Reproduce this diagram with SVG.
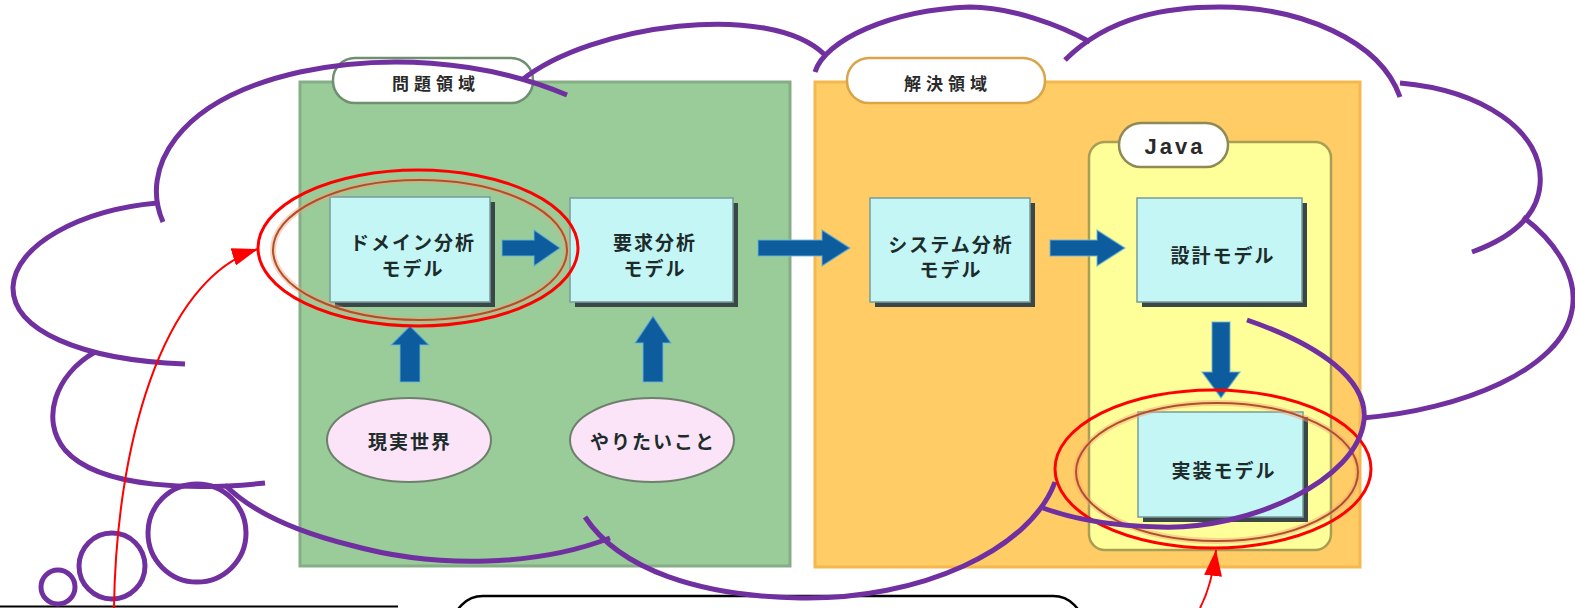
<svg xmlns="http://www.w3.org/2000/svg" width="1575" height="608" viewBox="0 0 1575 608">
<defs>
<style>
.box{fill:#c4f6f6;stroke:#7a9a9a;stroke-width:1.5}
.shadow{fill:#3a4747}
.jp{font-family:"Noto Sans CJK JP","Noto Sans",sans-serif;font-weight:bold;fill:#1d2b2b;font-size:19px;letter-spacing:2px;text-anchor:middle;dominant-baseline:central}
.lab{font-family:"Noto Sans CJK JP","Noto Sans",sans-serif;font-weight:bold;fill:#2a2a2a;font-size:17px;letter-spacing:5px;text-anchor:middle;dominant-baseline:central}
.blue{fill:#0d5c9e;stroke:#6bb6dc;stroke-width:1.5;stroke-opacity:0.6}
.cloud{fill:none;stroke:#7030a0;stroke-width:5}
.red{fill:none;stroke:#ff0000;stroke-width:3}
.brown{fill:none;stroke:#b0502a;stroke-width:2}
.halo{fill:none;stroke:#f2a27a;stroke-width:6;stroke-opacity:0.45}
.pink{fill:#fbe4f7;stroke:#6e7f6e;stroke-width:2}
.pill{stroke-width:2.5}
</style>
<marker id="ah" viewBox="0 0 26 18" refX="26" refY="9" markerWidth="26" markerHeight="18" markerUnits="userSpaceOnUse" orient="auto"><path d="M0,0 L26,9 L0,18 Z" fill="#ff0000"/></marker>
</defs>
<rect x="0" y="0" width="1575" height="608" fill="#ffffff"/>

<g id="problem-domain">
<rect x="300" y="82" width="490" height="484" fill="#99cc99" stroke="#86ae86" stroke-width="3"/>
<rect x="333" y="58" width="200" height="45" rx="22" fill="#ffffff" stroke="#6f8f6f" class="pill"/>
<text x="436" y="82" class="lab">問題領域</text>
</g>

<g id="solution-domain">
<rect x="815" y="82" width="545" height="485" fill="#ffcc66" stroke="#f5b84f" stroke-width="3"/>
<rect x="847" y="58" width="198" height="45" rx="22" fill="#ffffff" stroke="#d9a44a" class="pill"/>
<text x="948" y="82" class="lab">解決領域</text>
</g>

<g id="java">
<rect x="1089" y="142" width="242" height="408" rx="16" fill="#ffff99" stroke="#a89e55" stroke-width="2.5"/>
<rect x="1119" y="123" width="109" height="44" rx="22" fill="#ffffff" stroke="#8f8a55" class="pill"/>
<text x="1175" y="146" font-family="Liberation Sans, Arial, sans-serif" font-size="22" font-weight="bold" letter-spacing="3" fill="#2a2a2a" text-anchor="middle" dominant-baseline="central">Java</text>
</g>

<g id="domain-model">
<rect x="335" y="202" width="160" height="105" class="shadow"/>
<rect x="330" y="197" width="160" height="105" class="box"/>
<text x="413" y="241" class="jp">ドメイン分析</text>
<text x="413" y="267" class="jp">モデル</text>
</g>

<g id="requirement-model">
<rect x="575" y="203" width="163" height="104" class="shadow"/>
<rect x="570" y="198" width="163" height="104" class="box"/>
<text x="655" y="241" class="jp">要求分析</text>
<text x="655" y="267" class="jp">モデル</text>
</g>

<g id="system-model">
<rect x="875" y="203" width="160" height="104" class="shadow"/>
<rect x="870" y="198" width="160" height="104" class="box"/>
<text x="951" y="243" class="jp">システム分析</text>
<text x="951" y="268" class="jp">モデル</text>
</g>

<g id="design-model">
<rect x="1142" y="203" width="165" height="104" class="shadow"/>
<rect x="1137" y="198" width="165" height="104" class="box"/>
<text x="1223" y="254" class="jp">設計モデル</text>
</g>

<g id="implementation-model">
<rect x="1143" y="417" width="165" height="105" class="shadow"/>
<rect x="1138" y="412" width="165" height="105" class="box"/>
<text x="1224" y="469" class="jp">実装モデル</text>
</g>

<g id="real-world">
<ellipse cx="409" cy="440" rx="82" ry="42" class="pink"/>
<text x="410" y="440" class="jp">現実世界</text>
</g>

<g id="wants">
<ellipse cx="652" cy="440" rx="82" ry="42" class="pink"/>
<text x="653" y="440" class="jp">やりたいこと</text>
</g>

<g id="connectors">
<path class="blue" d="M502,240 L534,240 L534,230 L560,248 L534,266 L534,256 L502,256 Z"/>
<path class="blue" d="M758,240 L822,240 L822,230 L850,248 L822,266 L822,256 L758,256 Z"/>
<path class="blue" d="M1050,240 L1097,240 L1097,230 L1125,248 L1097,266 L1097,256 L1050,256 Z"/>
<path class="blue" d="M1212,322 L1230,322 L1230,372 L1240,372 L1221,398 L1202,372 L1212,372 Z"/>
<path class="blue" d="M400,382 L420,382 L420,345 L429,345 L410,326 L391,345 L400,345 Z"/>
<path class="blue" d="M643,382 L663,382 L663,343 L671,343 L653,316 L635,343 L643,343 Z"/>
</g>

<g id="highlights">
<ellipse cx="420" cy="250" rx="147" ry="70" class="halo"/>
<ellipse cx="420" cy="250" rx="147" ry="70" class="brown"/>
<ellipse cx="418" cy="248" rx="160" ry="78" class="red"/>
<ellipse cx="1217" cy="472" rx="141" ry="69" class="halo"/>
<ellipse cx="1217" cy="472" rx="141" ry="69" class="brown"/>
<ellipse cx="1213" cy="469" rx="158" ry="79" class="red"/>
</g>

<g id="callout-box">
<line x1="0" y1="606.5" x2="398" y2="606.5" stroke="#000000" stroke-width="2"/>
<rect x="453" y="596" width="630" height="60" rx="30" fill="#ffffff" stroke="#000000" stroke-width="2.5"/>
</g>

<g id="cloud">
<path class="cloud" d="M163,222 C140,170 175,100 300,72 C380,55 480,58 567,95"/>
<path class="cloud" d="M522,80 C590,25 770,0 825,55"/>
<path class="cloud" d="M815,72 C825,40 890,10 970,7 C1010,7 1060,25 1090,42"/>
<path class="cloud" d="M1065,60 C1110,15 1170,7 1220,7 C1300,7 1380,40 1400,97"/>
<path class="cloud" d="M1400,83 C1480,90 1545,130 1540,185 C1537,220 1505,240 1472,252"/>
<path class="cloud" d="M1523,217 C1560,245 1578,280 1572,310 C1562,370 1460,410 1363,418"/>
<path class="cloud" d="M1247,320 C1320,345 1368,380 1364,420 C1358,480 1250,530 1160,527 C1110,526 1070,518 1043,508"/>
<path class="cloud" d="M1055,482 C1030,550 920,600 800,598 C700,596 620,570 585,517"/>
<path class="cloud" d="M610,538 C540,565 440,570 350,545 C290,530 250,510 225,485"/>
<path class="cloud" d="M95,352 C55,375 40,420 65,450 C100,490 200,490 265,483"/>
<path class="cloud" d="M157,203 C80,210 15,245 13,287 C12,330 80,360 185,364"/>
<circle class="cloud" cx="197" cy="533" r="49"/>
<circle class="cloud" cx="112" cy="566" r="33"/>
<circle class="cloud" cx="58" cy="587" r="17"/>
</g>

<g id="annotation-arrows">
<path d="M114,608 C116,450 160,280 258,249" fill="none" stroke="#ff0000" stroke-width="2" marker-end="url(#ah)"/>
<path d="M1200,608 Q1212,585 1216,550" fill="none" stroke="#ff0000" stroke-width="2" marker-end="url(#ah)"/>
</g>
</svg>
